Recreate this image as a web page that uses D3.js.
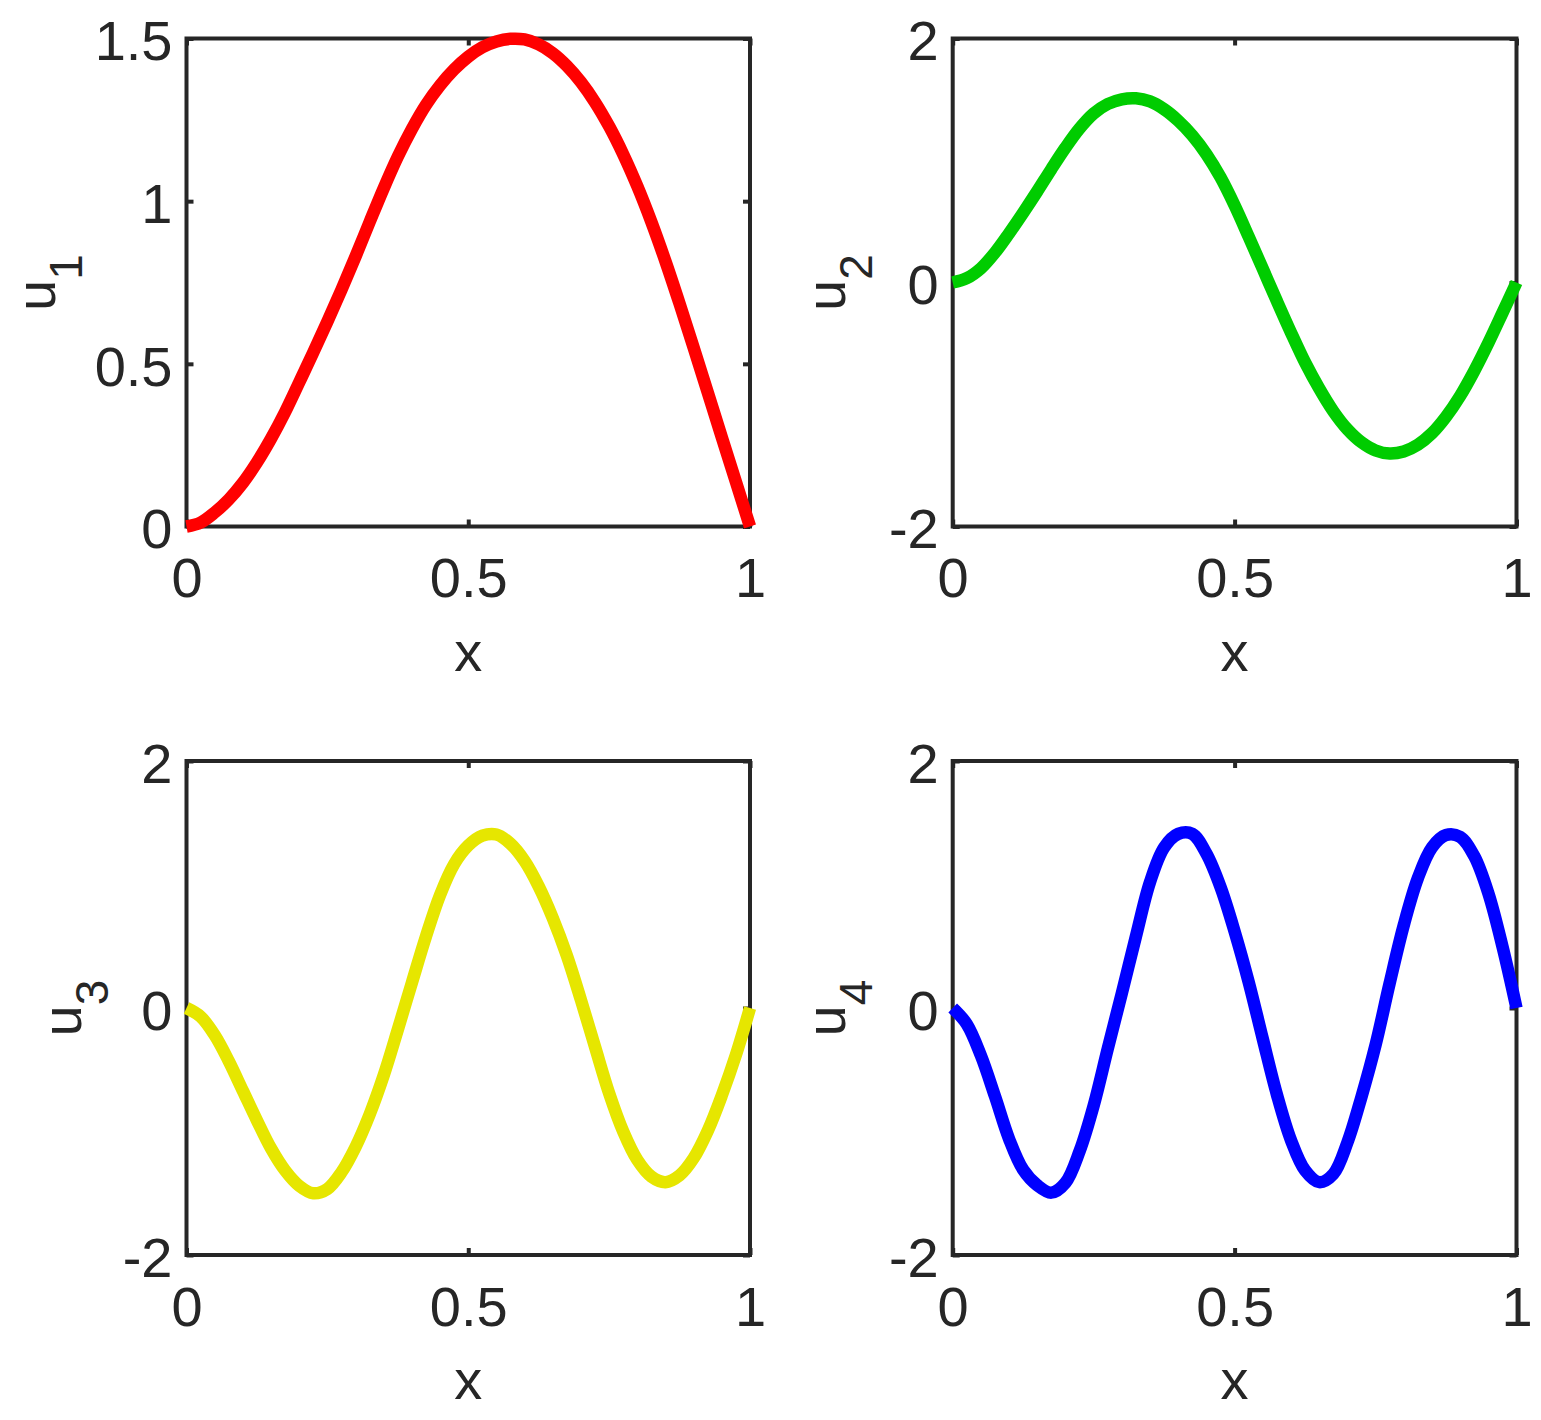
<!DOCTYPE html>
<html>
<head>
<meta charset="utf-8">
<script src="https://cdn.jsdelivr.net/npm/d3@7"></script>
<style>
  body { margin: 0; background: #fff; }
  text { font-family: "Liberation Sans", Arial, Helvetica, sans-serif; fill: #262626; }
</style>
</head>
<body>
<div id="my_dataviz"></div>
<script>
var xs = [0, 0.025, 0.05, 0.075, 0.1, 0.125, 0.15, 0.175, 0.2, 0.225, 0.25, 0.275, 0.3, 0.325, 0.35, 0.375, 0.4, 0.425, 0.45, 0.475, 0.5,
          0.525, 0.55, 0.575, 0.6, 0.625, 0.65, 0.675, 0.7, 0.725, 0.75, 0.775, 0.8, 0.825, 0.85, 0.875, 0.9, 0.925, 0.95, 0.975, 1];
var u1 = [0, 0.012, 0.043, 0.083, 0.134, 0.197, 0.270, 0.352, 0.443, 0.535, 0.630, 0.728, 0.830, 0.936, 1.040, 1.137, 1.222, 1.296, 1.356, 1.405, 1.444,
          1.473, 1.491, 1.499, 1.497, 1.482, 1.455, 1.416, 1.366, 1.304, 1.230, 1.144, 1.046, 0.936, 0.815, 0.685, 0.550, 0.412, 0.274, 0.137, 0];
var u2 = [0, 0.035, 0.116, 0.245, 0.403, 0.572, 0.748, 0.930, 1.105, 1.262, 1.385, 1.463, 1.502, 1.510, 1.484, 1.420, 1.326, 1.205, 1.052, 0.862, 0.632,
          0.375, 0.112, -0.152, -0.410, -0.655, -0.868, -1.055, -1.203, -1.310, -1.377, -1.402, -1.385, -1.330, -1.236, -1.100, -0.930, -0.725, -0.496, -0.250, 0];
var u3 = [0, -0.07, -0.22, -0.43, -0.67, -0.91, -1.137, -1.316, -1.44, -1.50, -1.465, -1.33, -1.125, -0.862, -0.545, -0.175, 0.205, 0.58, 0.915, 1.165, 1.315,
          1.395, 1.405, 1.33, 1.19, 0.985, 0.728, 0.424, 0.065, -0.315, -0.69, -1.0, -1.23, -1.365, -1.41, -1.355, -1.216, -0.995, -0.708, -0.38, 0];
var u4 = [0, -0.13, -0.385, -0.715, -1.06, -1.31, -1.435, -1.495, -1.415, -1.16, -0.79, -0.33, 0.12, 0.58, 1.02, 1.30, 1.41, 1.41, 1.25, 0.98, 0.62,
          0.21, -0.25, -0.70, -1.07, -1.315, -1.41, -1.345, -1.09, -0.72, -0.30, 0.20, 0.67, 1.05, 1.30, 1.40, 1.385, 1.23, 0.93, 0.50, 0];

var xTicks = [0, 0.5, 1];
var yTicks1 = [0, 0.5, 1, 1.5];
var yTicks = [-2, 0, 2];
var yLabels = ["u", "u", "u", "u"];
var ySubs = ["1", "2", "3", "4"];
var xTitle = "x";

// panel boxes (pixels) and styles
var panels = [
  {left: 186.5, right: 750,    top: 38.5, bottom: 526.5, ydom: [0, 1.5], yt: yTicks1, ys: u1, color: "#ff0000", lab: 55},
  {left: 952.7, right: 1516.5, top: 38.5, bottom: 526.5, ydom: [-2, 2],  yt: yTicks,  ys: u2, color: "#00cc00", lab: 845},
  {left: 186.5, right: 750,    top: 761,  bottom: 1255,  ydom: [-2, 2],  yt: yTicks,  ys: u3, color: "#e6e600", lab: 81},
  {left: 952.7, right: 1516.5, top: 761,  bottom: 1255,  ydom: [-2, 2],  yt: yTicks,  ys: u4, color: "#0000ff", lab: 845}
];

var fmt = function(d) { return String(d); };

var svg = d3.select("#my_dataviz")
  .append("svg")
  .attr("width", 1541)
  .attr("height", 1420);

panels.forEach(function(p, i) {
  var x = d3.scaleLinear().domain([0, 1]).range([p.left, p.right]);
  var y = d3.scaleLinear().domain(p.ydom).range([p.bottom, p.top]);

  // ticks, inside
  var ax = [
    svg.append("g").attr("transform", "translate(0," + p.bottom + ")")
      .call(d3.axisBottom(x).tickValues(xTicks).tickFormat(fmt).tickSize(-7).tickPadding(31)),
    svg.append("g").attr("transform", "translate(0," + p.top + ")")
      .call(d3.axisTop(x).tickValues(xTicks).tickFormat("").tickSize(-7)),
    svg.append("g").attr("transform", "translate(" + p.left + ",0)")
      .call(d3.axisLeft(y).tickValues(p.yt).tickFormat(fmt).tickSize(-7).tickPadding(14)),
    svg.append("g").attr("transform", "translate(" + p.right + ",0)")
      .call(d3.axisRight(y).tickValues(p.yt).tickFormat("").tickSize(-7))
  ];
  ax.forEach(function(g) {
    g.select(".domain").remove();
    g.selectAll("line").attr("stroke", "#262626").attr("stroke-width", 4);
    g.selectAll("text").attr("font-size", 56).attr("fill", "#262626")
      .style("font-family", "'Liberation Sans', Arial, Helvetica, sans-serif");
  });
  ax[2].selectAll("text").attr("dy", "0.38em");

  // box
  svg.append("rect")
    .attr("x", p.left).attr("y", p.top)
    .attr("width", p.right - p.left).attr("height", p.bottom - p.top)
    .attr("fill", "none").attr("stroke", "#262626").attr("stroke-width", 4);

  // curve
  var pts = xs.map(function(d, k) { return [d, p.ys[k]]; });
  svg.append("path")
    .datum(pts)
    .attr("fill", "none")
    .attr("stroke", p.color)
    .attr("stroke-width", 12.5)
    .attr("stroke-linejoin", "round")
    .attr("d", d3.line()
      .x(function(d) { return x(d[0]); })
      .y(function(d) { return y(d[1]); })
      .curve(d3.curveCatmullRom));

  // x title
  svg.append("text")
    .attr("x", (p.left + p.right) / 2)
    .attr("y", p.bottom + 144)
    .attr("text-anchor", "middle")
    .attr("font-size", 56)
    .text(xTitle);

  // y title with subscript
  var t = svg.append("text")
    .attr("transform", "translate(" + p.lab + "," + ((p.top + p.bottom) / 2) + ") rotate(-90)")
    .attr("text-anchor", "middle")
    .attr("font-size", 56);
  t.append("tspan").text(yLabels[i]);
  t.append("tspan").attr("font-size", 46).attr("dy", 27).text(ySubs[i]);
});
</script>
</body>
</html>
